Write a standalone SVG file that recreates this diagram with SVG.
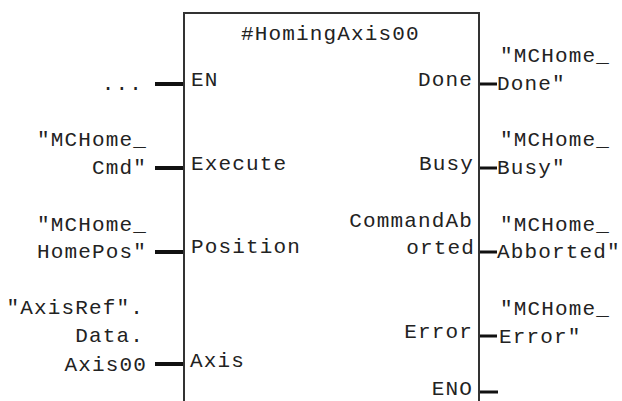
<svg xmlns="http://www.w3.org/2000/svg" width="622" height="401" viewBox="0 0 622 401">
<style>
text{font-family:"Liberation Mono","Courier New",monospace;font-size:21px;letter-spacing:1.15px;fill:#222;white-space:pre}
.e{text-anchor:end}
.box{fill:none;stroke:#333;stroke-width:2}
.w{stroke:#111;stroke-width:4;fill:none}
.r{stroke-width:3}
</style>
<rect width="622" height="401" fill="#fff"/>
<g id="connectors">
<path class="w" d="M155 84H184M155 168H184M155 252H184M155 364H184"/>
<path class="w r" d="M479 84H497M479 168H497M479 252H497M479 336H497M479 392H498"/>
</g>
<g id="block">
<path class="box" d="M184 401V13H479V401"/>
<text x="241" y="40">#HomingAxis00</text>
<text x="191" y="86">EN</text>
<text x="191" y="170">Execute</text>
<text x="191" y="253">Position</text>
<text x="190" y="367">Axis</text>
<text x="473" y="86" class="e">Done</text>
<text x="474" y="170" class="e">Busy</text>
<text x="473" y="227" class="e">CommandAb</text>
<text x="475" y="254" class="e">orted</text>
<text x="473" y="338" class="e">Error</text>
<text x="473" y="395" class="e">ENO</text>
</g>
<g id="inputs">
<text x="143" y="90" class="e">...</text>
<text x="147" y="146" class="e">"MCHome_</text>
<text x="147" y="174" class="e">Cmd"</text>
<text x="147" y="231" class="e">"MCHome_</text>
<text x="147" y="258" class="e">HomePos"</text>
<text x="144" y="314" class="e">"AxisRef".</text>
<text x="144" y="342" class="e">Data.</text>
<text x="147" y="371" class="e">Axis00</text>
</g>
<g id="outputs">
<text x="500" y="62">"MCHome_</text>
<text x="497" y="90">Done"</text>
<text x="500" y="146">"MCHome_</text>
<text x="497" y="174">Busy"</text>
<text x="500" y="231">"MCHome_</text>
<text x="497" y="258">Abborted"</text>
<text x="500" y="315">"MCHome_</text>
<text x="499" y="343">Error"</text>
</g>
</svg>
